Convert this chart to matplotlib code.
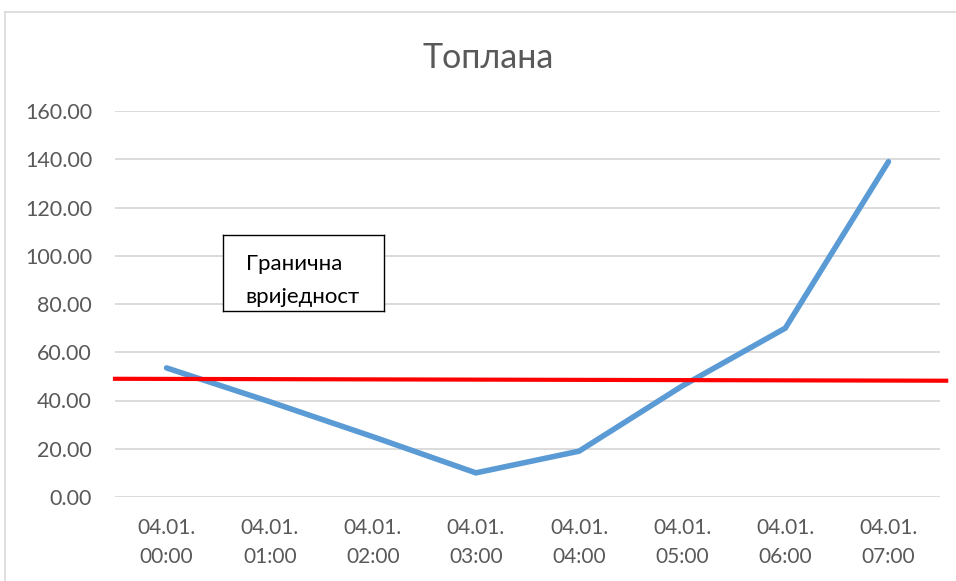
import matplotlib
matplotlib.use('Agg')
import matplotlib.pyplot as plt
from matplotlib.lines import Line2D

# data
categories = ["04.01.\n00:00", "04.01.\n01:00", "04.01.\n02:00", "04.01.\n03:00",
              "04.01.\n04:00", "04.01.\n05:00", "04.01.\n06:00", "04.01.\n07:00"]
values = [53.5, 39.5, 25.0, 10.0, 19.0, 46.0, 70.0, 139.0]
limit_x = [-0.5, 7.56]
limit_y = [49.0, 48.2]
y_ticks = [0, 20, 40, 60, 80, 100, 120, 140, 160]
title = "Топлана"
note = "Гранична\nвриједност"

W, H = 956, 581
plt.rcParams['font.family'] = ['Lato', 'DejaVu Sans']

fig = plt.figure(figsize=(W / 100, H / 100), dpi=100)
fig.patch.set_facecolor('white')

# chart frame (only top and left edges visible in the crop)
fig.add_artist(Line2D([5 / W, 5 / W], [0, 1 - 12 / H], transform=fig.transFigure,
                      color='#d9d9d9', lw=1.2))
fig.add_artist(Line2D([5 / W, 1], [1 - 12 / H, 1 - 12 / H], transform=fig.transFigure,
                      color='#d9d9d9', lw=1.2))

left, right, top, bottom = 115, 940, 111, 497
ax = fig.add_axes([left / W, 1 - bottom / H, (right - left) / W, (bottom - top) / H])
ax.set_xlim(-0.5, len(categories) - 0.5)
ax.set_ylim(0, 160)
ax.set_yticks(y_ticks)
ax.set_yticklabels([f"{v:.2f}" for v in y_ticks])
ax.set_xticks(range(len(categories)))
ax.set_xticklabels(categories, linespacing=1.55)
ax.grid(axis='y', color='#d9d9d9', lw=1.3)
ax.set_axisbelow(True)
for s in ax.spines.values():
    s.set_visible(False)
ax.tick_params(length=0, colors='#595959')
ax.tick_params(axis='y', pad=16.5, labelsize=15.5)
ax.tick_params(axis='x', pad=15, labelsize=15)

ax.plot(range(len(values)), values, color='#5b9bd5', lw=4.0, solid_capstyle='round',
        solid_joinstyle='miter', zorder=3)
ax.plot(limit_x, limit_y, color='#ff0000', lw=3.0, clip_on=False, zorder=4)

fig.text(488 / W, 1 - 58 / H, title, ha='center', va='center', fontsize=24.5, color='#595959')

# text box
bx0, bx1, by0, by1 = 223, 384, 235, 311
tax = fig.add_axes([bx0 / W, 1 - by1 / H, (bx1 - bx0) / W, (by1 - by0) / H])
tax.set_xticks([])
tax.set_yticks([])
for s in tax.spines.values():
    s.set_color('black')
    s.set_linewidth(1.0)
tax.text(0.14, 0.40, note, transform=tax.transAxes, ha='left', va='center',
         fontsize=16, color='black', linespacing=1.8, clip_on=True)

fig.savefig('out.png', dpi=100, facecolor='white')
